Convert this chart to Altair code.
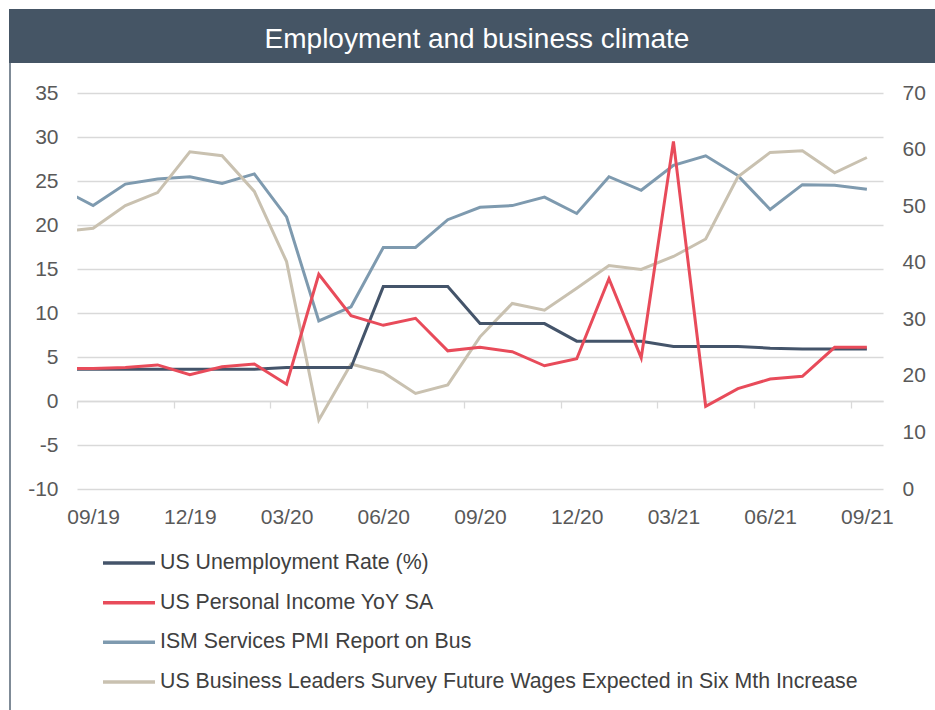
import json
import altair as alt
import pandas as pd

# ---------------- data ----------------
months = ["08/19", "09/19", "10/19", "11/19", "12/19", "01/20", "02/20", "03/20",
          "04/20", "05/20", "06/20", "07/20", "08/20", "09/20", "10/20", "11/20",
          "12/20", "01/21", "02/21", "03/21", "04/21", "05/21", "06/21", "07/21",
          "08/21", "09/21"]
unemployment = [3.6, 3.6, 3.6, 3.6, 3.6, 3.6, 3.6, 3.8, 3.8, 3.8, 13.0, 13.0, 13.0,
                8.8, 8.8, 8.8, 6.8, 6.8, 6.8, 6.2, 6.2, 6.2, 6.0, 5.9, 5.9, 5.9]
income = [3.7, 3.7, 3.8, 4.1, 3.0, 3.9, 4.2, 1.9, 14.4, 9.7, 8.6, 9.4, 5.7,
          6.1, 5.6, 4.0, 4.8, 13.9, 4.9, 29.5, -0.6, 1.4, 2.5, 2.8, 6.1, 6.1]
ism = [53.1, 50.1, 53.9, 54.8, 55.2, 54.0, 55.7, 48.1, 29.7, 32.2, 42.7, 42.7, 47.6,
       49.8, 50.1, 51.6, 48.7, 55.2, 52.8, 57.2, 58.9, 55.4, 49.4, 53.8, 53.7, 53.0]
wages = [45.5, 46.1, 50.1, 52.4, 59.6, 58.9, 52.6, 40.2, 12.2, 22.1, 20.6, 16.9, 18.4,
         26.9, 32.8, 31.6, 35.5, 39.5, 38.8, 41.1, 44.2, 55.2, 59.5, 59.8, 55.9, 58.6]

series_names = ["US Unemployment Rate (%)",
                "US Personal Income YoY SA",
                "ISM Services PMI Report on Bus",
                "US Business Leaders Survey Future Wages Expected in Six Mth Increase"]
series_colors = ["#44546A", "#E84B5A", "#7E9AAF", "#C9C1B0"]

tick_labels = ["09/19", "12/19", "03/20", "06/20", "09/20", "12/20", "03/21", "06/21", "09/21"]
left_ticks = [-10, -5, 0, 5, 10, 15, 20, 25, 30, 35]
right_ticks = [0, 10, 20, 30, 40, 50, 60, 70]
title_text = "Employment and business climate"

# ---------------- tables ----------------
df = pd.DataFrame({
    "k": list(range(-1, len(months) - 1)),
    "month": months,
    "unemployment": unemployment,
    "income": income,
    "ism": ism,
    "wages": wages,
})
legend_df = pd.DataFrame({"idx": list(range(len(series_names))), "series": series_names})

FONT = "Liberation Sans"
GRID = "#D9D9D9"
LABEL = "#595959"
TICK_FS = 21

W, H = 806, 396

tick_vals = [-0.5 + 3 * i for i in range(len(tick_labels))]
label_expr = json.dumps(tick_labels) + "[round((datum.value + 0.5) / 3)]"

x_enc = alt.X(
    "k:Q",
    scale=alt.Scale(domain=[-0.5, len(months) - 1.5], nice=False, zero=False),
    axis=alt.Axis(
        values=tick_vals, labelExpr=label_expr, title=None, grid=False,
        offset=-88, tickSize=7, tickColor=GRID, tickWidth=1.3,
        domainColor=GRID, domainWidth=1.3,
        labelPadding=98, labelOffset=16.1, labelFlush=False, labelOverlap=False,
        labelFontSize=TICK_FS, labelColor=LABEL, labelFont=FONT,
    ),
)

left_scale = alt.Scale(domain=[-10, 35], nice=False, zero=False)
right_scale = alt.Scale(domain=[0, 70], nice=False, zero=False)

left_axis = alt.Axis(
    orient="left", values=left_ticks, title=None, grid=True, gridColor=GRID,
    gridWidth=1.3, domain=False, ticks=False, labelPadding=19,
    labelExpr="datum.value + ''",
    labelFontSize=TICK_FS, labelColor=LABEL, labelFont=FONT,
)
right_axis = alt.Axis(
    orient="right", values=right_ticks, title=None, grid=False, domain=False,
    ticks=False, labelPadding=19, labelExpr="datum.value + ''",
    labelFontSize=TICK_FS, labelColor=LABEL, labelFont=FONT,
)

base = alt.Chart(df)

line_ism = base.mark_line(clip=True, strokeWidth=3, color=series_colors[2]).encode(
    x=x_enc, y=alt.Y("ism:Q", scale=right_scale, axis=right_axis))
line_wages = base.mark_line(clip=True, strokeWidth=3, color=series_colors[3]).encode(
    x=x_enc, y=alt.Y("wages:Q", scale=right_scale, axis=None))
line_unemp = base.mark_line(clip=True, strokeWidth=3, color=series_colors[0]).encode(
    x=x_enc, y=alt.Y("unemployment:Q", scale=left_scale, axis=left_axis))
line_income = base.mark_line(clip=True, strokeWidth=3, color=series_colors[1]).encode(
    x=x_enc, y=alt.Y("income:Q", scale=left_scale, axis=None))

# title bar and frame
deco = alt.Chart(pd.DataFrame({"a": [0]}))
bar = deco.mark_rect(color="#455565").encode(
    x=alt.value(-68), x2=alt.value(858), y=alt.value(-84), y2=alt.value(-30))
title = deco.mark_text(font=FONT, fontSize=28, color="white", align="center",
                       baseline="alphabetic").encode(
    x=alt.value(400), y=alt.value(-45), text=alt.value(title_text))
frame = deco.mark_rule(color="#7F8B97", strokeWidth=2).encode(
    x=alt.value(-67), y=alt.value(-30), y2=alt.value(617))

# custom legend
color_scale = alt.Scale(domain=series_names, range=series_colors)
leg_y = alt.Y("idx:Q", scale=alt.Scale(domain=[0, 3], range=[470, 589], nice=False, zero=False),
              axis=None)
leg_rules = alt.Chart(legend_df).mark_rule(strokeWidth=3.5).encode(
    x=alt.value(26), x2=alt.value(78), y=leg_y,
    color=alt.Color("series:N", scale=color_scale, legend=None))
leg_text = alt.Chart(legend_df).mark_text(font=FONT, fontSize=21.3, color="#404040",
                                          align="left", baseline="middle").encode(
    x=alt.value(83), y=leg_y, text="series:N")

chart = alt.layer(
    frame, bar, title, line_ism, line_wages, line_unemp, line_income, leg_rules, leg_text
).resolve_scale(y="independent").properties(
    width=W, height=H,
    autosize=alt.AutoSizeParams(type="none"),
    padding={"left": 77, "top": 93, "right": 52, "bottom": 221},
    background="white",
).configure_view(stroke=None)

chart.save("out.html", embed_options={"renderer": "svg", "actions": False})
